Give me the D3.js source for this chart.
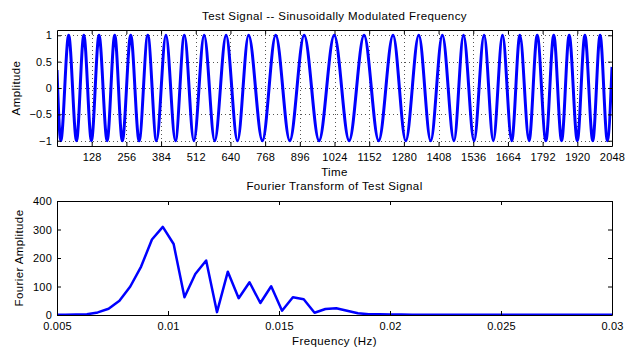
<!DOCTYPE html>
<html>
<head>
<meta charset="utf-8">
<script src="https://cdn.jsdelivr.net/npm/d3@7"></script>
<style>
body { margin: 0; background: #fff; }
svg { display: block; font-family: "Liberation Sans", Arial, sans-serif; }
.axis text { font-size: 11px; fill: #000; letter-spacing: 0.2px; }
.axis path, .axis line { stroke: #000; }
.grid line { stroke: #555; stroke-dasharray: 1,3; }
.label { font-size: 11.5px; fill: #000; letter-spacing: 0.4px; }
</style>
</head>
<body>
<script>
var signalTime = [0, 14, 43, 72, 99, 127, 155, 185, 213, 241, 272, 303, 335, 367, 402, 437, 470,
    505, 543, 582, 624, 666, 707, 758, 807, 859, 912, 967, 1023, 1078, 1133, 1187, 1240,
    1287, 1335, 1379, 1422, 1465, 1500, 1539, 1576, 1610, 1644, 1678, 1708, 1742, 1772,
    1804, 1833, 1862, 1890, 1920, 1948, 1977, 2004, 2031, 2048];
var signalAmp = [0.34, -1, 1, -1, 1, -1, 1, -1, 1, -1, 1, -1, 1, -1, 1, -1, 1,
    -1, 1, -1, 1, -1, 1, -1, 1, -1, 1, -1, 1, -1, 1, -1, 1,
    -1, 1, -1, 1, -1, 1, -1, 1, -1, 1, -1, 1, -1, 1,
    -1, 1, -1, 1, -1, 1, -1, 1, -1, 0.4];

var timeTicks = [128, 256, 384, 512, 640, 768, 896, 1024, 1152, 1280, 1408, 1536, 1664, 1792, 1920, 2048];
var ampTicks = [-1, -0.5, 0, 0.5, 1];

// fourier transform magnitude
var fftFreq = [0.004883, 0.005371, 0.005859, 0.006348, 0.006836, 0.007324, 0.007813, 0.008301,
    0.008789, 0.009277, 0.009766, 0.010254, 0.010742, 0.011230, 0.011719, 0.012207, 0.012695,
    0.013184, 0.013672, 0.014160, 0.014648, 0.015137, 0.015625, 0.016113, 0.016602, 0.017090,
    0.017578, 0.018066, 0.018555, 0.019043, 0.019531, 0.020020, 0.020508, 0.020996, 0.021484,
    0.021973, 0.022461, 0.022949, 0.023438, 0.023926, 0.024414, 0.024902, 0.025391, 0.025879,
    0.026367, 0.026855, 0.027344, 0.027832, 0.028320, 0.028809, 0.029297, 0.029785, 0.030273];
var fftAmp = [0.5, 0.8, 1.5, 3, 9, 22, 50, 100, 170, 265, 309, 249, 62, 144, 191, 10, 152,
    59, 115, 42, 101, 15, 62, 55, 8, 21, 24, 15, 6, 3, 2.5, 2, 1.5, 1.2,
    1, 1, 1, 1, 1, 1, 0.9, 0.9, 0.9, 0.8, 0.8, 0.8, 0.7, 0.7, 0.7, 0.6, 0.6, 0.5, 0.5];

var freqTicks = [0.005, 0.01, 0.015, 0.02, 0.025, 0.03];
var fftTicks = [0, 100, 200, 300, 400];

var svg = d3.select("body").append("svg")
    .attr("width", 625)
    .attr("height", 347);

// ---------- top: the signal ----------
var m1 = {left: 57, top: 30},
    w = 555,
    h1 = 116;

var x1 = d3.scaleLinear().domain([0, 2048]).range([0, w]);
var y1 = d3.scaleLinear().domain([-1.1, 1.1]).range([h1, 0]);

var g1 = svg.append("g")
    .attr("transform", "translate(" + m1.left + "," + m1.top + ")");

g1.append("clipPath").attr("id", "clip1")
    .append("rect").attr("width", w).attr("height", h1);

// dotted grid
g1.append("g").attr("class", "grid")
    .selectAll("line").data(timeTicks.slice(0, -1))
    .enter().append("line")
    .attr("x1", function (d) { return Math.round(x1(d)) + 0.5; })
    .attr("x2", function (d) { return Math.round(x1(d)) + 0.5; })
    .attr("y1", 0).attr("y2", h1);
g1.append("g").attr("class", "grid")
    .selectAll("line").data(ampTicks)
    .enter().append("line")
    .attr("y1", function (d) { return Math.round(y1(d)) + 0.5; })
    .attr("y2", function (d) { return Math.round(y1(d)) + 0.5; })
    .attr("x1", 0).attr("x2", w);

var signal = signalTime.map(function (t, i) { return {x: t, y: signalAmp[i]}; });

var line1 = d3.line()
    .curve(d3.curveMonotoneX)
    .x(function (d) { return x1(d.x); })
    .y(function (d) { return y1(d.y); });

g1.append("path")
    .datum(signal)
    .attr("clip-path", "url(#clip1)")
    .attr("fill", "none")
    .attr("stroke", "#0000ff")
    .attr("stroke-width", 3)
    .attr("d", line1);

g1.append("g").attr("class", "axis")
    .attr("transform", "translate(0," + h1 + ")")
    .call(d3.axisBottom(x1).tickValues(timeTicks).tickSizeInner(-4).tickSizeOuter(0).tickPadding(7)
        .tickFormat(d3.format("d")));
g1.append("g").attr("class", "axis")
    .call(d3.axisTop(x1).tickValues(timeTicks).tickSizeInner(-4).tickSizeOuter(0).tickFormat(""));
g1.append("g").attr("class", "axis")
    .call(d3.axisLeft(y1).tickValues(ampTicks).tickSizeInner(-4).tickSizeOuter(0).tickPadding(5)
        .tickFormat(d3.format("")));
g1.append("g").attr("class", "axis")
    .attr("transform", "translate(" + w + ",0)")
    .call(d3.axisRight(y1).tickValues(ampTicks).tickSizeInner(-4).tickSizeOuter(0).tickFormat(""));

svg.append("text").attr("class", "label")
    .attr("x", m1.left + w / 2).attr("y", 20)
    .attr("text-anchor", "middle")
    .text("Test Signal -- Sinusoidally Modulated Frequency");
svg.append("text").attr("class", "label")
    .attr("x", m1.left + w / 2).attr("y", 176)
    .attr("text-anchor", "middle")
    .text("Time");
svg.append("text").attr("class", "label")
    .attr("transform", "translate(20," + (m1.top + h1 / 2) + ") rotate(-90)")
    .attr("text-anchor", "middle")
    .text("Amplitude");

// ---------- bottom: fourier transform ----------
var m2 = {left: 57, top: 201},
    h2 = 114;

var x2 = d3.scaleLinear().domain([0.005, 0.03]).range([0, w]);
var y2 = d3.scaleLinear().domain([0, 400]).range([h2, 0]);

var g2 = svg.append("g")
    .attr("transform", "translate(" + m2.left + "," + m2.top + ")");

g2.append("clipPath").attr("id", "clip2")
    .append("rect").attr("width", w).attr("height", h2 + 2).attr("y", -1);

var spectrum = fftFreq.map(function (f, i) { return {x: f, y: fftAmp[i]}; });

var line2 = d3.line()
    .x(function (d) { return x2(d.x); })
    .y(function (d) { return y2(d.y); });

g2.append("path")
    .datum(spectrum)
    .attr("clip-path", "url(#clip2)")
    .attr("fill", "none")
    .attr("stroke", "#0000ff")
    .attr("stroke-width", 2.5)
    .attr("stroke-linejoin", "round")
    .attr("d", line2);

var freqFormat = function (d) { return String(+d.toFixed(3)); };

g2.append("g").attr("class", "axis")
    .attr("transform", "translate(0," + h2 + ")")
    .call(d3.axisBottom(x2).tickValues(freqTicks).tickSizeInner(-4).tickSizeOuter(0).tickPadding(7)
        .tickFormat(freqFormat));
g2.append("g").attr("class", "axis")
    .call(d3.axisTop(x2).tickValues(freqTicks).tickSizeInner(-4).tickSizeOuter(0).tickFormat(""));
g2.append("g").attr("class", "axis")
    .call(d3.axisLeft(y2).tickValues(fftTicks).tickSizeInner(-4).tickSizeOuter(0).tickPadding(5));
g2.append("g").attr("class", "axis")
    .attr("transform", "translate(" + w + ",0)")
    .call(d3.axisRight(y2).tickValues(fftTicks).tickSizeInner(-4).tickSizeOuter(0).tickFormat(""));

svg.append("text").attr("class", "label")
    .attr("x", m2.left + w / 2).attr("y", 190)
    .attr("text-anchor", "middle")
    .text("Fourier Transform of Test Signal");
svg.append("text").attr("class", "label")
    .attr("x", m2.left + w / 2).attr("y", 345)
    .attr("text-anchor", "middle")
    .text("Frequency (Hz)");
svg.append("text").attr("class", "label")
    .attr("transform", "translate(23," + (m2.top + h2 / 2) + ") rotate(-90)")
    .attr("text-anchor", "middle")
    .text("Fourier Amplitude");
</script>
</body>
</html>
